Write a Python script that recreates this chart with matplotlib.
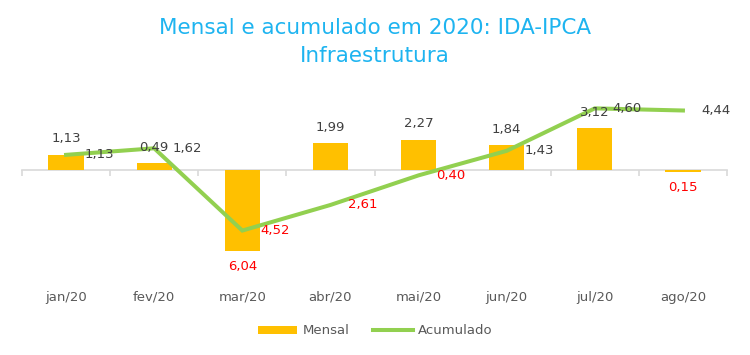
import matplotlib
matplotlib.use("Agg")
import matplotlib.pyplot as plt
import matplotlib.transforms as mtransforms
from matplotlib.patches import Patch
from matplotlib.lines import Line2D

categories = ["jan/20", "fev/20", "mar/20", "abr/20", "mai/20", "jun/20", "jul/20", "ago/20"]
mensal = [1.13, 0.49, -6.04, 1.99, 2.27, 1.84, 3.12, -0.15]
acumulado = [1.13, 1.62, -4.52, -2.61, -0.40, 1.43, 4.60, 4.44]
title = "Mensal e acumulado em 2020: IDA-IPCA\nInfraestrutura"

BAR = "#FFC000"
LINE = "#92D050"
LBL = "#404040"
NEG = "#FF0000"
TICK = "#595959"
TITLE = "#1EB4F0"

def fmt(v):
    return f"{abs(v):.2f}".replace(".", ",")

fig = plt.figure(figsize=(7.5, 3.55), dpi=100)
ax = fig.add_axes([22/750, 75/355, 705/750, 190/355])
x = list(range(len(categories)))

ax.bar(x, mensal, width=0.4, color=BAR, zorder=2)
ax.plot(x, acumulado, color=LINE, lw=2.9, zorder=3, solid_joinstyle="miter")

ax.set_xlim(-0.5, len(categories) - 0.5)
ax.set_ylim(-8.21, 5.97)

for s in ["top", "right", "left"]:
    ax.spines[s].set_visible(False)
ax.spines["bottom"].set_position(("data", 0))
ax.spines["bottom"].set_color("#D9D9D9")
ax.spines["bottom"].set_linewidth(1.2)
ax.spines["bottom"].set_zorder(1)
ax.set_yticks([])
ax.set_xticks(x)
ax.set_xticklabels([])
ax.tick_params(axis="x", which="major", length=0)
ax.set_xticks([i - 0.5 for i in range(len(categories) + 1)], minor=True)
ax.tick_params(axis="x", which="minor", length=4, color="#D9D9D9", width=1.2, direction="out")

trans = mtransforms.blended_transform_factory(ax.transData, ax.transAxes)
for i, c in zip(x, categories):
    ax.annotate(c, xy=(i, 0), xycoords=trans, xytext=(0, -12.5), textcoords="offset points",
                ha="center", va="center", fontsize=9.5, color=TICK)

for i, v in zip(x, mensal):
    ax.annotate(fmt(v), xy=(i, v), xytext=(0, 11.5 if v >= 0 else -11.5), textcoords="offset points",
                ha="center", va="center", fontsize=9.5, color=LBL if v >= 0 else NEG, zorder=5)

for i, v in zip(x, acumulado):
    ax.annotate(fmt(v), xy=(i, v), xytext=(13, 0), textcoords="offset points",
                ha="left", va="center", fontsize=9.5, color=LBL if v >= 0 else NEG, zorder=5)

fig.text(0.5, 1 - 42/355, title, ha="center", va="center", fontsize=15.5, color=TITLE,
         linespacing=1.45)

handles = [Patch(facecolor=BAR, edgecolor="none"), Line2D([], [], color=LINE, lw=2.9)]
fig.legend(handles, ["Mensal", "Acumulado"], loc="center", bbox_to_anchor=(0.5, 24/355),
           ncol=2, frameon=False, fontsize=9.5, labelcolor=TICK, handlelength=3.0,
           handleheight=0.6, handletextpad=0.4, columnspacing=1.8)

fig.savefig("out.png", dpi=100)
